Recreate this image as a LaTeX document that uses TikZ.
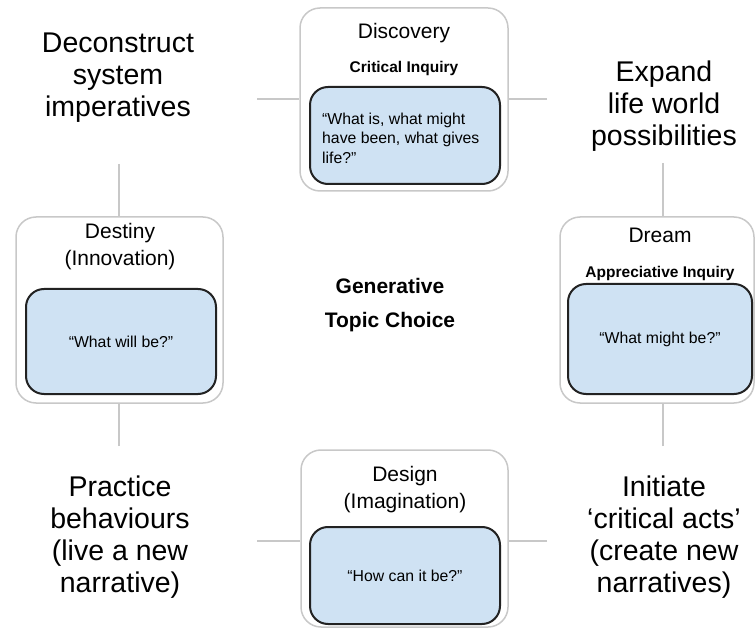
\documentclass[tikz,border=0pt]{standalone}
\usepackage{fontspec}
\setmainfont{Liberation Sans}
\definecolor{boxgray}{HTML}{C8C8C8}
\definecolor{qblue}{HTML}{CFE2F3}
\definecolor{qline}{HTML}{222222}
\tikzset{
  phase/.style={draw=boxgray, line width=1.5pt, fill=white, rounded corners=20pt, inner sep=0pt},
  qtext/.style={inner sep=0pt, font=\fontsize{15.8}{19.5}\selectfont},
  quest/.style={qtext, draw=qline, line width=2pt, fill=qblue, rounded corners=18pt},
  link/.style={draw=boxgray, line width=2pt},
  bigtext/.style={align=center, font=\fontsize{28.5}{32}\selectfont},
  phasetitle/.style={align=center, font=\fontsize{21}{27}\selectfont},
  subtitle/.style={font=\bfseries\fontsize{15.5}{19}\selectfont},
}

\begin{document}
\begin{tikzpicture}[x=1pt, y=-1pt]
		%%%%% START %%%%%
		\useasboundingbox (0,0) rectangle (755,628);
		
		% four phases
		\node[phase, minimum width=208pt, minimum height=183pt] (discovery) at (404,99.5) {};
		\node[phase, minimum width=207pt, minimum height=186pt] (destiny) at (119.5,310) {};
		\node[phase, minimum width=194pt, minimum height=186pt] (dream) at (657,310) {};
		\node[phase, minimum width=207pt, minimum height=177pt] (design) at (404.5,538.5) {};
		
		\node[phasetitle] (discoveryT) at (404,33) {Discovery};
		\node[subtitle] (discoveryS) at (404,68) {Critical Inquiry};
		\node[quest, minimum width=190pt, minimum height=97pt] (discoveryQ) at (405,135.5) {};
		\node[qtext, anchor=west, align=left] (discoveryQt) at (322,138) {“What is, what might\\have been, what gives\\life?”};
		
		\node[phasetitle] (destinyT) at (120,247) {Destiny\\(Innovation)};
		\node[quest, minimum width=190pt, minimum height=105pt] (destinyQ) at (121,341.5) {“What will be?”};
		
		\node[phasetitle] (dreamT) at (660,235) {Dream};
		\node[subtitle] (dreamS) at (660,273) {Appreciative Inquiry};
		\node[quest, minimum width=184pt, minimum height=110pt] (dreamQ) at (660,339) {“What might be?”};
		
		\node[phasetitle] (designT) at (405,490) {Design\\(Imagination)};
		\node[quest, minimum width=190pt, minimum height=97pt] (designQ) at (405,575.5) {“How can it be?”};
		
		% centre
		\node[align=center, font=\bfseries\fontsize{21}{34}\selectfont] (topic) at (390,305) {Generative\\Topic Choice};
		
		% corner texts
		\node[bigtext] (deconstruct) at (118,78) {Deconstruct\\system\\imperatives};
		\node[bigtext] (expand) at (664,106) {Expand\\life world\\possibilities};
		\node[bigtext] (practice) at (120,537) {Practice\\behaviours\\(live a new\\narrative)};
		\node[bigtext] (initiate) at (664,537) {Initiate\\‘critical acts’\\(create new\\narratives)};
		
		% links
		\coordinate (a1) at (257,99);
		\coordinate (a2) at (547,99);
		\coordinate (b1) at (119,164);
		\coordinate (b2) at (119,446);
		\coordinate (c1) at (663,163);
		\coordinate (c2) at (663,446);
		\coordinate (d1) at (257,541);
		\coordinate (d2) at (547,541);
		\draw[link] (a1) -- (a1 -| discovery.west);
		\draw[link] (a2) -- (a2 -| discovery.east);
		\draw[link] (b1) -- (b1 |- destiny.north);
		\draw[link] (b2) -- (b2 |- destiny.south);
		\draw[link] (c1) -- (c1 |- dream.north);
		\draw[link] (c2) -- (c2 |- dream.south);
		\draw[link] (d1) -- (d1 -| design.west);
		\draw[link] (d2) -- (d2 -| design.east);
		%%%%% END %%%%%
\end{tikzpicture}
\end{document}
